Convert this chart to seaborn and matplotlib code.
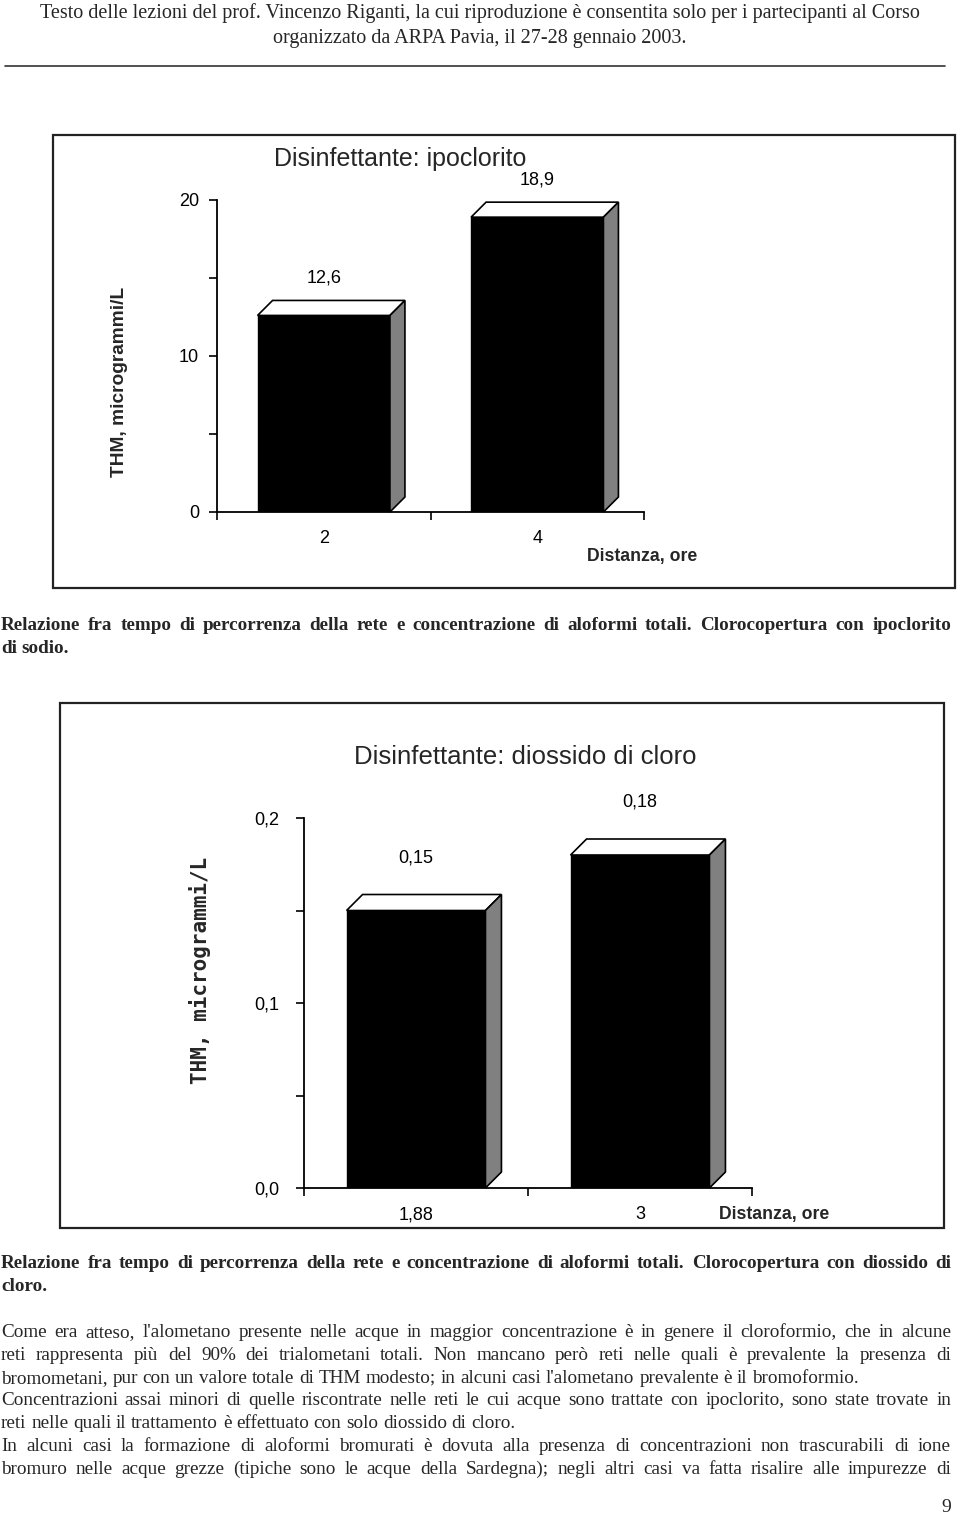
import numpy as np
import pandas as pd
import matplotlib
matplotlib.use("Agg")
import matplotlib.pyplot as plt
import seaborn as sns
from matplotlib import font_manager as fm
from matplotlib.patches import Polygon, Rectangle
from matplotlib.lines import Line2D
from matplotlib.transforms import IdentityTransform

# ---------------- data ----------------
hypo_categories = ["2", "4"]
hypo_values = [12.6, 18.9]
hypo_yticks = [0, 10, 20]
hypo_yticklabels = ["0", "10", "20"]
hypo_yminor = [5, 15]

clo2_categories = ["1,88", "3"]
clo2_values = [0.15, 0.18]
clo2_yticks = [0.0, 0.1, 0.2]
clo2_yticklabels = ["0,0", "0,1", "0,2"]
clo2_yminor = [0.05, 0.15]

title_hypo = "Disinfettante: ipoclorito"
title_clo2 = "Disinfettante: diossido di cloro"
ylabel = "THM, microgrammi/L"
xlabel = "Distanza, ore"

header_lines = [
    "Testo delle lezioni del prof. Vincenzo Riganti, la cui riproduzione è consentita solo per i partecipanti al Corso",
    "organizzato da ARPA Pavia, il 27-28 gennaio 2003.",
]
caption1_lines = [
    "Relazione fra tempo di percorrenza della rete e concentrazione  di aloformi totali. Clorocopertura con ipoclorito",
    "di sodio.",
]
caption2_lines = [
    "Relazione fra tempo di percorrenza della rete e concentrazione di aloformi totali. Clorocopertura con diossido di",
    "cloro.",
]
paragraph_lines = [
    "Come era atteso, l'alometano presente nelle acque in maggior concentrazione è in genere il cloroformio, che in alcune",
    "reti rappresenta più del 90% dei trialometani totali. Non mancano però reti nelle quali è prevalente la presenza di",
    "bromometani, pur con un valore totale di THM modesto; in alcuni casi l'alometano prevalente è il bromoformio.",
    "Concentrazioni assai minori di quelle riscontrate nelle reti le cui acque sono trattate con ipoclorito, sono state trovate in",
    "reti nelle quali il trattamento è effettuato con solo diossido di cloro.",
    "In alcuni casi la formazione di aloformi bromurati è dovuta alla presenza di concentrazioni non trascurabili di ione",
    "bromuro nelle acque grezze (tipiche sono le acque della Sardegna); negli altri casi va fatta risalire alle impurezze di",
]
paragraph_justified = [True, True, False, True, False, True, True]
page_number = "9"

# ---------------- style / fonts ----------------
sns.set_style("ticks")
names = {f.name for f in fm.fontManager.ttflist}


def pick(*cands):
    for c in cands:
        if c in names:
            return c
    return "DejaVu Sans"


SANS_N = pick("Liberation Sans Narrow", "Liberation Sans")
NARROW = SANS_N == "Liberation Sans Narrow"
ns = 1.15 if NARROW else 1.0
SANS = pick("Liberation Sans", "Arimo", "DejaVu Sans")
SERIF = pick("Liberation Serif", "Tinos", "DejaVu Serif")
MONO = pick("DejaVu Sans Mono", "Liberation Mono")
plt.rcParams["font.family"] = [SANS_N, "DejaVu Sans"]
plt.rcParams["axes.linewidth"] = 1.3

W, H = 960, 1518
fig = plt.figure(figsize=(W / 100, H / 100), dpi=100)
fig.patch.set_facecolor("white")


def fx(x):
    return x / W


def fy(y):
    return 1 - y / H


def ptext(x, y, s, **kw):
    kw.setdefault("ha", "center")
    kw.setdefault("va", "center")
    return fig.text(fx(x), fy(y), s, **kw)


renderer = fig.canvas.get_renderer()


def line_text(text, y, x0, x1, justify, **kw):
    words = text.split()
    objs = [fig.text(0, fy(y), w, ha="left", va="baseline", **kw) for w in words]
    widths = [o.get_window_extent(renderer).width for o in objs]
    t1 = fig.text(0, 0, "a a", **kw)
    t2 = fig.text(0, 0, "aa", **kw)
    sp = t1.get_window_extent(renderer).width - t2.get_window_extent(renderer).width
    t1.remove()
    t2.remove()
    if justify and len(words) > 1:
        gap = (x1 - x0 - sum(widths)) / (len(words) - 1)
    else:
        gap = sp
    x = x0
    for o, w in zip(objs, widths):
        o.set_x(fx(x))
        x += w + gap


def make_axes(l, r, b, t):
    return fig.add_axes([l / W, 1 - b / H, (r - l) / W, (b - t) / H])


def bar_chart(ax, cats, vals, yticks, yticklabels, yminor, ylim, label_off, ypad, tick_fs):
    df = pd.DataFrame({"cat": cats, "val": vals})
    sns.barplot(data=df, x="cat", y="val", order=cats, color="black", saturation=1,
                width=0.62, edgecolor="black", linewidth=1.0, ax=ax)
    ax.set_xlim(-0.5, 1.5)
    ax.set_ylim(*ylim)
    ax.set_xlabel("")
    ax.set_ylabel("")
    ax.set_facecolor("none")
    sns.despine(ax=ax)
    for s in ("left", "bottom"):
        ax.spines[s].set_color("black")
        ax.spines[s].set_linewidth(1.3)
    ax.set_xticks([-0.5, 0.5, 1.5])
    ax.set_xticklabels(["", "", ""])
    ax.set_xticks([0, 1], minor=True)
    ax.set_xticklabels(cats, minor=True)
    ax.tick_params(axis="x", which="major", direction="out", length=6, width=1.2, color="black")
    ax.tick_params(axis="x", which="minor", length=0, pad=13, labelsize=tick_fs, labelcolor="black")
    ax.set_yticks(yticks)
    ax.set_yticklabels(yticklabels)
    ax.set_yticks(yminor, minor=True)
    ax.tick_params(axis="y", which="both", direction="out", length=6, width=1.2,
                   pad=ypad, labelsize=tick_fs, color="black", labelcolor="black")
    for i, v in enumerate(vals):
        ax.annotate(f"{v}".replace(".", ","), xy=(i, v), xytext=(0, label_off),
                    textcoords="offset points", ha="center", va="center",
                    fontsize=tick_fs, color="black")


def add_depth(ax, d=15):
    for p in ax.patches:
        x0 = p.get_x()
        x1 = x0 + p.get_width()
        y0 = p.get_y()
        y1 = y0 + p.get_height()
        (X0, Y0), (X1, Y1) = ax.transData.transform([(x0, y0), (x1, y1)])
        top = [(X0, Y1), (X1, Y1), (X1 + d, Y1 + d), (X0 + d, Y1 + d)]
        side = [(X1, Y0), (X1, Y1), (X1 + d, Y1 + d), (X1 + d, Y0 + d)]
        fig.add_artist(Polygon(top, closed=True, facecolor="white", edgecolor="black",
                               lw=1.2, transform=IdentityTransform(), zorder=5))
        fig.add_artist(Polygon(side, closed=True, facecolor="#808080", edgecolor="black",
                               lw=1.2, transform=IdentityTransform(), zorder=5))


BODY_FS = 13.8

# ---------------- header ----------------
ptext(480, 13, header_lines[0], family=SERIF, fontsize=14.5)
ptext(480, 39, header_lines[1], family=SERIF, fontsize=14.5)
fig.add_artist(Line2D([fx(5), fx(945)], [fy(66), fy(66)], transform=fig.transFigure,
                      color="#333333", lw=1.2))

# ---------------- chart 1 ----------------
fig.add_artist(Rectangle((fx(53), fy(588)), (955 - 53) / W, (588 - 135) / H,
                         transform=fig.transFigure, fill=False, edgecolor="#222222", lw=1.6))
ax1 = make_axes(217, 644, 512, 200)
bar_chart(ax1, hypo_categories, hypo_values, hypo_yticks, hypo_yticklabels, hypo_yminor,
          (0, 20), 27, 7, 13 * ns)
add_depth(ax1, 15)
ptext(400, 159, title_hypo, fontsize=18 * ns, family=SANS_N)
ptext(120, 382, ylabel, rotation=90, fontsize=13.8, fontweight="bold", family=SANS)
ptext(642, 556, xlabel, fontsize=12.7 * ns, fontweight="bold", family=SANS_N)

line_text(caption1_lines[0], 630, 1, 951, True, family=SERIF, fontsize=BODY_FS, fontweight="bold")
line_text(caption1_lines[1], 653, 1, 951, False, family=SERIF, fontsize=BODY_FS, fontweight="bold")

# ---------------- chart 2 ----------------
fig.add_artist(Rectangle((fx(60), fy(1228)), (944 - 60) / W, (1228 - 703) / H,
                         transform=fig.transFigure, fill=False, edgecolor="#222222", lw=1.6))
ax2 = make_axes(304, 752, 1188, 818)
bar_chart(ax2, clo2_categories, clo2_values, clo2_yticks, clo2_yticklabels, clo2_yminor,
          (0, 0.2), 38, 12, 13 * ns)
add_depth(ax2, 16)
ptext(525, 757, title_clo2, fontsize=18.5 * ns, family=SANS_N)
ptext(200, 970, ylabel, rotation=90, fontsize=15, fontweight="bold", family=MONO)
ptext(774, 1215, xlabel, fontsize=12.7 * ns, fontweight="bold", family=SANS_N)

line_text(caption2_lines[0], 1268, 1, 951, True, family=SERIF, fontsize=BODY_FS, fontweight="bold")
line_text(caption2_lines[1], 1291, 1, 951, False, family=SERIF, fontsize=BODY_FS, fontweight="bold")

# ---------------- paragraph ----------------
y = 1337
for txt, j in zip(paragraph_lines, paragraph_justified):
    line_text(txt, y, 1, 951, j, family=SERIF, fontsize=BODY_FS)
    y += 22.8

ptext(946, 1508, page_number, family=SERIF, fontsize=14)

fig.savefig("out.png", dpi=100, facecolor="white")
